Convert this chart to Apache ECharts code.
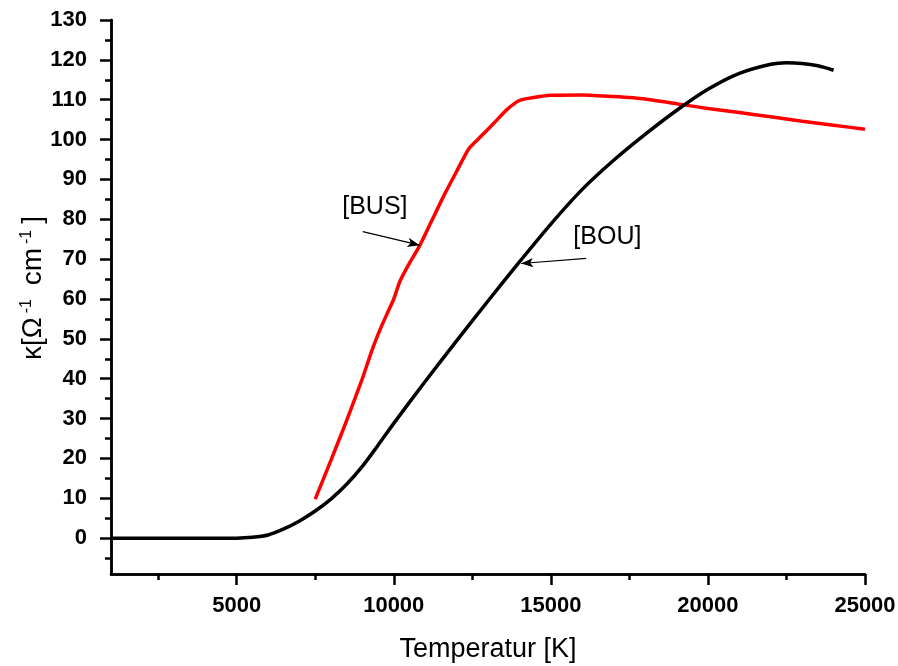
<!DOCTYPE html>
<html>
<head>
<meta charset="utf-8">
<script src="https://cdn.jsdelivr.net/npm/echarts@6/dist/echarts.min.js"></script>
<style>html,body{margin:0;padding:0;background:#fff;}#c{width:898px;height:666px;}</style>
</head>
<body>
<div id="c"></div>
<script>
// BOU curve (black)
const bouT = [1000,2000,3000,4000,5000,5500,6000,6500,7000,7500,8000,8500,9000,9500,10000,11000,12000,13000,14000,15000,16000,17000,18000,19000,20000,21000,22000,22500,23000,23500,24000];
const bouK = [0,0,0,0,0,0.2,0.8,2.3,4.3,6.8,9.8,13.5,18,23.3,28.8,39.3,49.5,59.5,69.3,78.8,87.5,94.8,101.3,107.3,112.6,116.6,118.9,119.3,119.1,118.5,117.4];
// BUS curve (red)
const busT = [7500,8000,8500,9000,9300,9600,9800,10000,10200,10500,10800,11200,11600,12000,12400,12800,13200,13600,14000,14500,15000,16000,17000,18000,19000,20000,21000,22000,23000,24000,25000];
const busK = [9.8,19.5,29.5,40,47,53,56.5,60,64.5,69,73,79.5,86,92,97.8,101,104.2,107.5,109.8,110.6,111.1,111.2,110.8,110.2,109,107.8,106.8,105.7,104.6,103.6,102.6];
// ticks
const xMajor = [5000,10000,15000,20000,25000];
const xMinor = [2500,7500,12500,17500,22500];
const yMajor = [0,10,20,30,40,50,60,70,80,90,100,110,120,130];
const yMinor = [-5,5,15,25,35,45,55,65,75,85,95,105,115,125];
// annotations
const annoText = ['[BUS]','[BOU]'];
const annoPos = [[9400,83.1],[16800,75.5]];
const arrowFrom = [[9015,76.9],[16127,70.2]];
const arrowTo = [[10820,73.5],[14057,68.9]];

const FONT = 'Liberation Sans, Arial, sans-serif';
const chart = echarts.init(document.getElementById('c'), null, {renderer:'canvas'});
const axisLine = {show:true, onZero:false, lineStyle:{color:'#000', width:2.5}};
const baseX = {type:'value', min:1000, max:25000, position:'bottom', splitLine:{show:false}, axisLine: axisLine};
const baseY = {type:'value', min:-9, max:130, position:'left', splitLine:{show:false}, axisLine: axisLine};

chart.setOption({
  animation:false,
  backgroundColor:'#fff',
  grid:{left:111, right:33, top:20, bottom:92, containLabel:false, outerBoundsMode:'none'},
  xAxis:[
    Object.assign({}, baseX, {
      name:'Temperatur [K]', nameLocation:'middle', nameGap:62, nameMoveOverlap:false,
      nameTextStyle:{fontFamily:FONT, fontSize:27, color:'#000'},
      axisTick:{show:true, inside:false, length:11, customValues:xMajor, lineStyle:{color:'#000', width:2.5}},
      axisLabel:{show:true, customValues:xMajor, margin:21, formatter:v=>String(v), fontFamily:FONT, fontWeight:'bold', fontSize:22, color:'#000'}
    }),
    Object.assign({}, baseX, {
      axisTick:{show:true, inside:false, length:6, customValues:xMinor, lineStyle:{color:'#000', width:2.5}},
      axisLabel:{show:false}
    })
  ],
  yAxis:[
    Object.assign({}, baseY, {
      name:'{n|κ[Ω}{s|-1}{n| cm}{s|-1}{n|]}', nameLocation:'middle', nameGap:64, nameMoveOverlap:false,
      nameTextStyle:{fontFamily:FONT, fontSize:28, color:'#000', padding:[0,0,0,18],
        rich:{n:{fontFamily:FONT, fontSize:28, color:'#000'}, s:{fontFamily:FONT, fontSize:16, color:'#000', verticalAlign:'top', padding:[0,6,12,4]}}},
      axisTick:{show:true, inside:false, length:11, customValues:yMajor, lineStyle:{color:'#000', width:2.5}},
      axisLabel:{show:true, customValues:yMajor, margin:24, fontFamily:FONT, fontWeight:'bold', fontSize:22, color:'#000'}
    }),
    Object.assign({}, baseY, {
      axisTick:{show:true, inside:false, length:6, customValues:yMinor, lineStyle:{color:'#000', width:2.5}},
      axisLabel:{show:false}
    })
  ],
  series:[
    {
      name:'BOU', type:'line', xAxisIndex:0, yAxisIndex:0, showSymbol:false, smooth:0.3,
      lineStyle:{color:'#000', width:3.5}, z:3,
      data: bouT.map((t,i)=>[t,bouK[i]]),
      markLine:{silent:true, symbol:['none','arrow'], symbolSize:[7,12], label:{show:false},
        lineStyle:{color:'#000', width:1.2, type:'solid'},
        data: arrowFrom.map((f,i)=>[{coord:f},{coord:arrowTo[i]}])}
    },
    {
      name:'BUS', type:'line', xAxisIndex:0, yAxisIndex:0, showSymbol:false, smooth:0.2,
      lineStyle:{color:'#ff0000', width:3.5}, z:2,
      data: busT.map((t,i)=>[t,busK[i]])
    },
    {
      name:'labels', type:'scatter', xAxisIndex:0, yAxisIndex:0, symbolSize:0, silent:true,
      itemStyle:{opacity:1},
      data: annoPos.map((p,i)=>({value:p, name:annoText[i]})),
      label:{show:true, position:'inside', formatter:p=>p.name, fontFamily:FONT, fontSize:25, color:'#000', textBorderWidth:0, opacity:1}
    }
  ]
});
</script>
</body>
</html>
